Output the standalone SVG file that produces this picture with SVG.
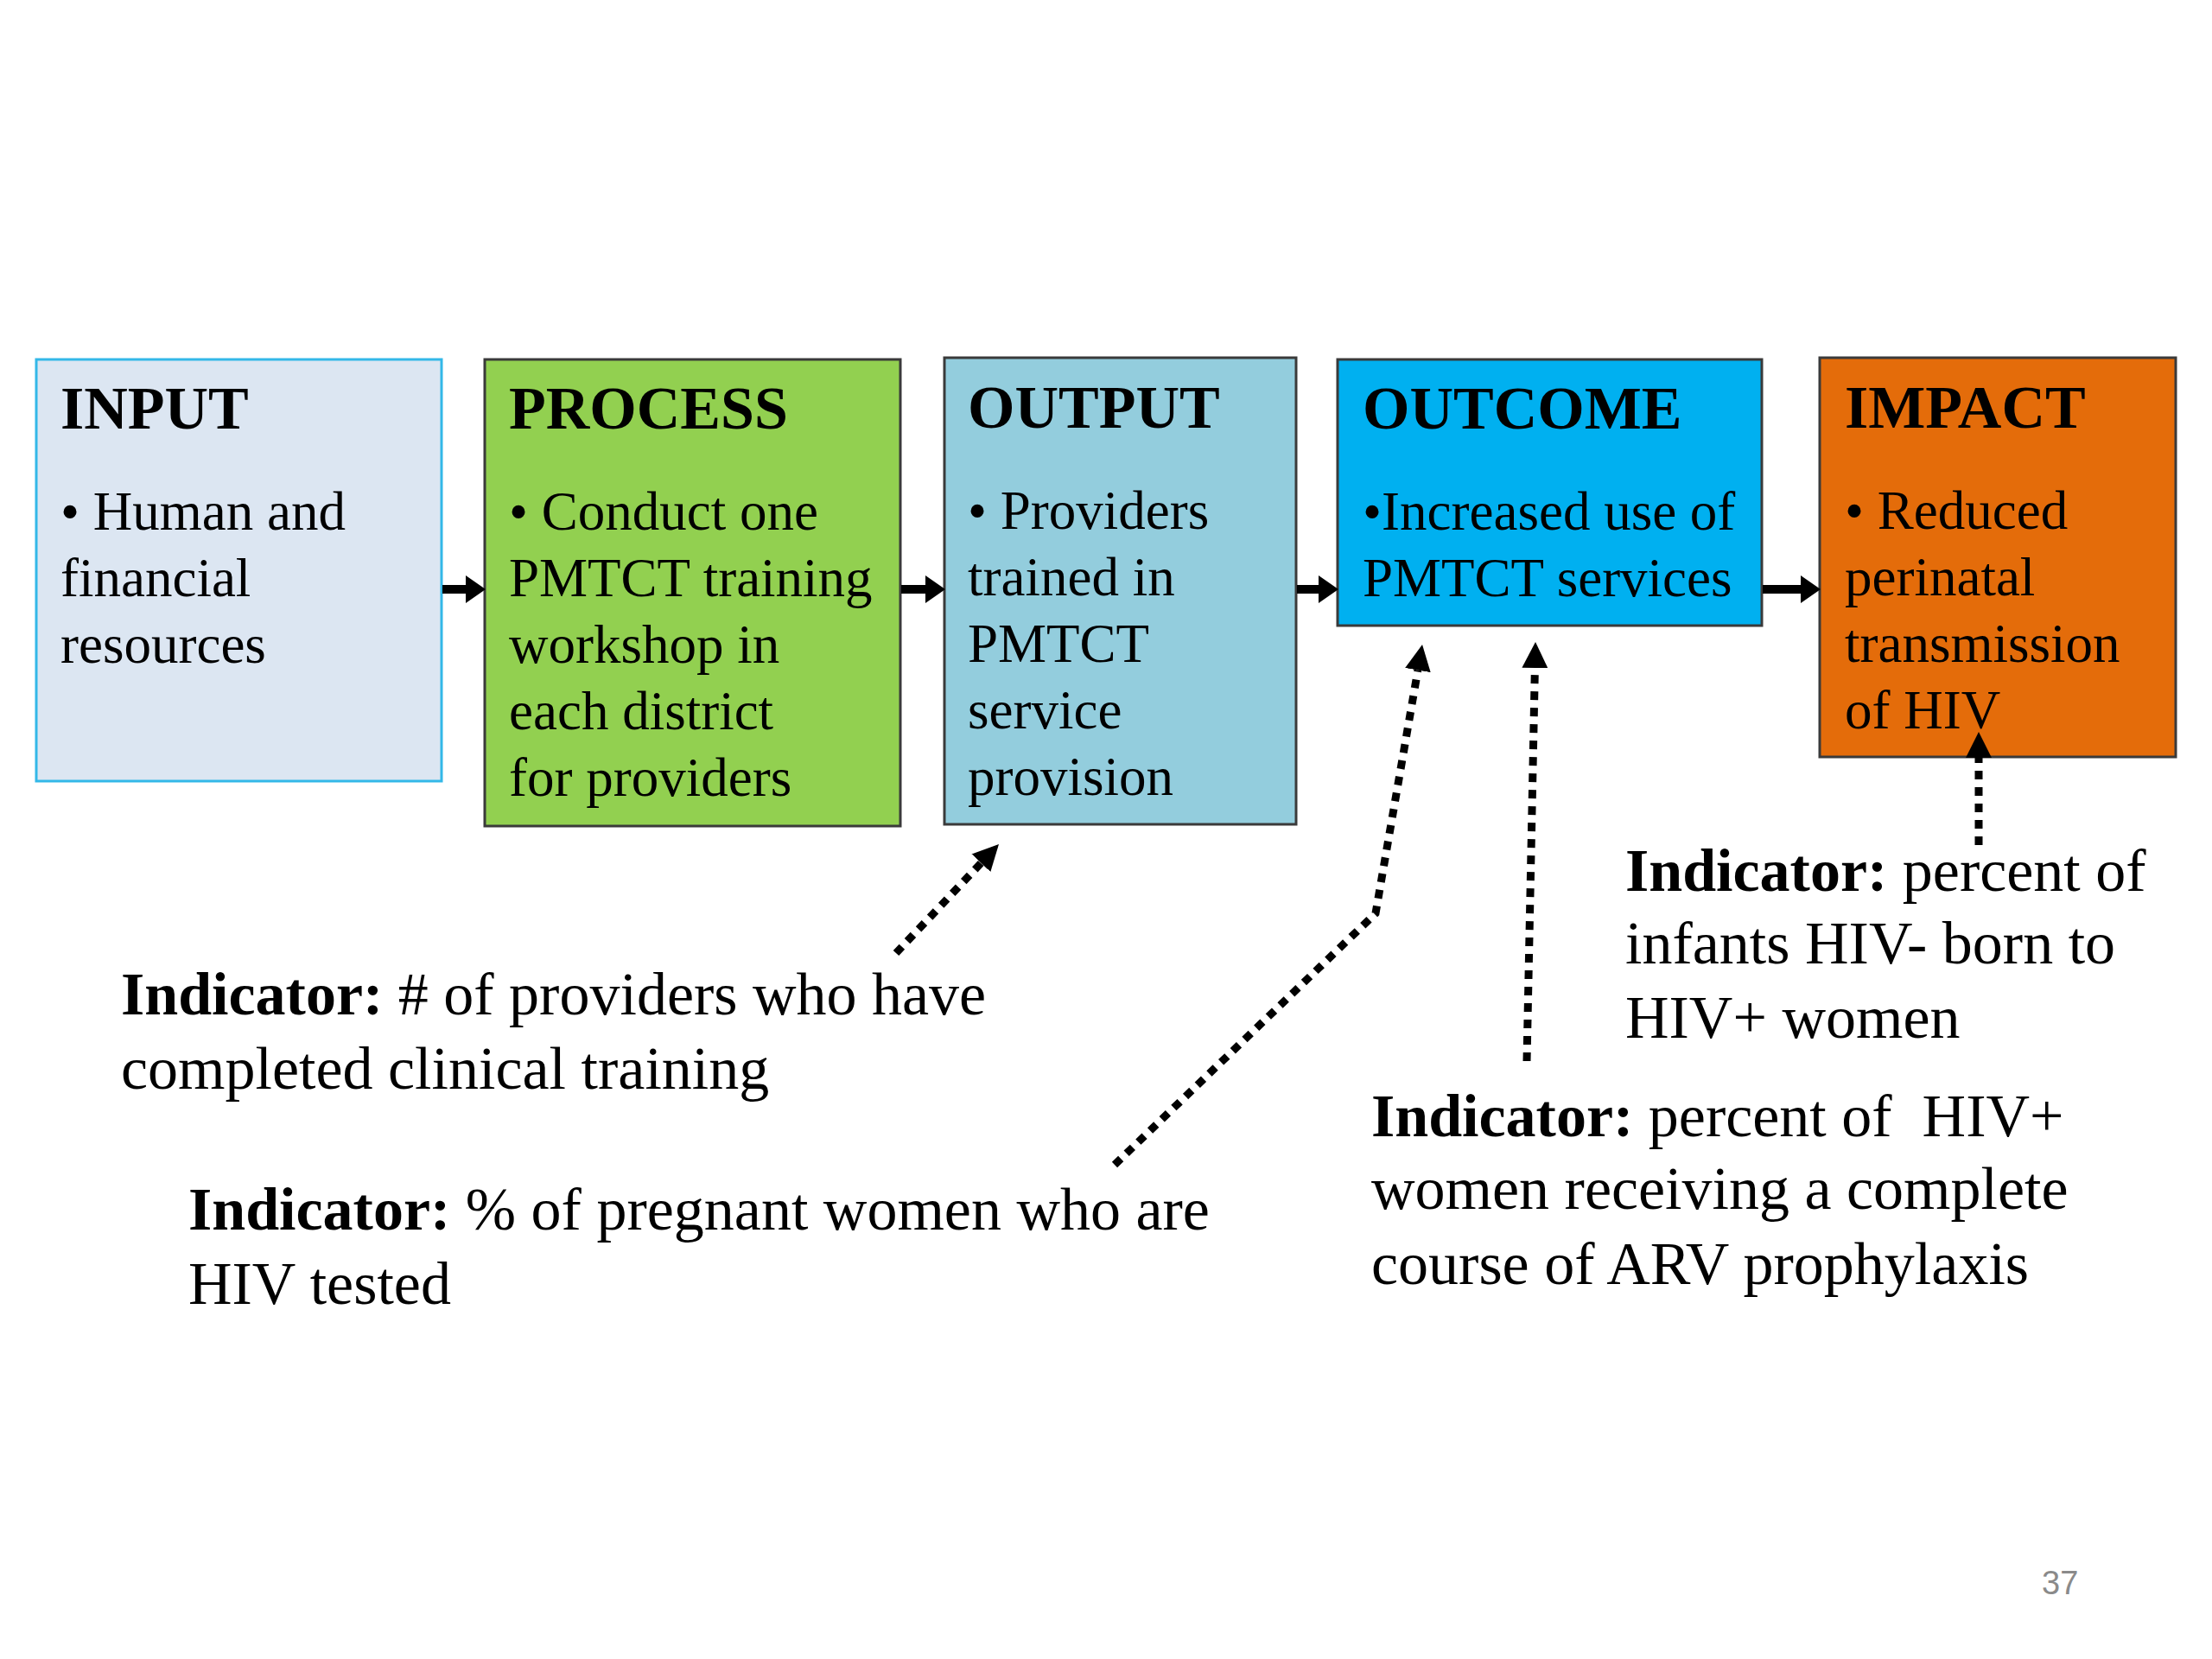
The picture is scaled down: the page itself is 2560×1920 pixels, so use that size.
<svg xmlns="http://www.w3.org/2000/svg" width="2560" height="1920" viewBox="0 0 2560 1920">
<style>
  .title { font-family: "Liberation Serif", "Times New Roman", serif; font-weight: bold; font-size: 70px; fill: #000; }
  .body { font-family: "Liberation Serif", "Times New Roman", serif; font-size: 63px; fill: #000; }
  .ind { font-family: "Liberation Serif", "Times New Roman", serif; font-size: 70px; fill: #000; }
  .ind .b { font-weight: bold; }
  .box { stroke: #3a3a3a; stroke-width: 3; }
  .solid { stroke: #000; stroke-width: 10; fill: none; marker-end: url(#solidHead); }
  .dotted { stroke: #000; stroke-width: 9; fill: none; stroke-dasharray: 10 9; marker-end: url(#dotHead); }
  .page { font-family: "Liberation Sans", Arial, sans-serif; font-size: 38px; fill: #8a8a8a; }
</style>
<defs>
  <marker id="solidHead" markerUnits="userSpaceOnUse" markerWidth="24" markerHeight="32" refX="0" refY="16" orient="auto" viewBox="0 0 24 32">
    <path d="M0,0 L23,16 L0,32 Z" fill="#000"/>
  </marker>
  <marker id="dotHead" markerUnits="userSpaceOnUse" markerWidth="31" markerHeight="30" refX="0" refY="15" orient="auto" viewBox="0 0 31 30">
    <path d="M0,0 L30,15 L0,30 Z" fill="#000"/>
  </marker>
</defs>
<rect x="0" y="0" width="2560" height="1920" fill="#fff"/>

<g id="input">
  <rect x="42" y="416" width="469" height="488" fill="#DCE6F2" stroke="#33B8E8" stroke-width="3"/>
  <text class="title" x="70" y="496">INPUT</text>
  <text class="body" x="70" y="613">• Human and</text>
  <text class="body" x="70" y="690">financial</text>
  <text class="body" x="70" y="767">resources</text>
</g>

<g id="process">
  <rect class="box" x="561" y="416" width="481" height="540" fill="#92D050"/>
  <text class="title" x="589" y="496">PROCESS</text>
  <text class="body" x="589" y="613">• Conduct one</text>
  <text class="body" x="589" y="690">PMTCT training</text>
  <text class="body" x="589" y="767">workshop in</text>
  <text class="body" x="589" y="844">each district</text>
  <text class="body" x="589" y="921">for providers</text>
</g>

<g id="output">
  <rect class="box" x="1093" y="414" width="407" height="540" fill="#93CDDD"/>
  <text class="title" x="1120" y="495">OUTPUT</text>
  <text class="body" x="1120" y="612">• Providers</text>
  <text class="body" x="1120" y="689">trained in</text>
  <text class="body" x="1120" y="766">PMTCT</text>
  <text class="body" x="1120" y="843">service</text>
  <text class="body" x="1120" y="920">provision</text>
</g>

<g id="outcome">
  <rect class="box" x="1548" y="416" width="491" height="308" fill="#00B0F0"/>
  <text class="title" x="1577" y="496">OUTCOME</text>
  <text class="body" x="1577" y="613">•Increased use of</text>
  <text class="body" x="1577" y="690">PMTCT services</text>
</g>

<g id="impact">
  <rect class="box" x="2106" y="414" width="412" height="462" fill="#E46C0A"/>
  <text class="title" x="2135" y="495">IMPACT</text>
  <text class="body" x="2135" y="612">• Reduced</text>
  <text class="body" x="2135" y="689">perinatal</text>
  <text class="body" x="2135" y="766">transmission</text>
  <text class="body" x="2135" y="843">of HIV</text>
</g>

<g id="indicator-output">
  <text class="ind" x="140" y="1174"><tspan class="b">Indicator:</tspan> # of providers who have</text>
  <text class="ind" x="140" y="1260">completed clinical training</text>
</g>

<g id="indicator-tested">
  <text class="ind" x="218" y="1423"><tspan class="b">Indicator:</tspan> % of pregnant women who are</text>
  <text class="ind" x="218" y="1509">HIV tested</text>
</g>

<g id="indicator-arv">
  <text class="ind" x="1587" y="1315"><tspan class="b">Indicator:</tspan> percent of &#160;HIV+</text>
  <text class="ind" x="1587" y="1399">women receiving a complete</text>
  <text class="ind" x="1587" y="1486">course of ARV prophylaxis</text>
</g>

<g id="indicator-impact">
  <text class="ind" x="1881" y="1031"><tspan class="b">Indicator:</tspan> percent of</text>
  <text class="ind" x="1881" y="1115">infants HIV- born to</text>
  <text class="ind" x="1881" y="1201">HIV+ women</text>
</g>

<g id="connectors">
  <line class="solid" x1="512" y1="682" x2="539" y2="682"/>
  <line class="solid" x1="1043" y1="682" x2="1071" y2="682"/>
  <line class="solid" x1="1501" y1="682" x2="1526" y2="682"/>
  <line class="solid" x1="2040" y1="682" x2="2084" y2="682"/>
  <line class="dotted" x1="1037" y1="1103" x2="1135.4" y2="998.8"/>
  <polyline class="dotted" points="1290,1348 1592,1057 1640.9,775.6"/>
  <line class="dotted" x1="1767" y1="1228" x2="1776.4" y2="773"/>
  <line class="dotted" x1="2290" y1="978" x2="2290" y2="877"/>
</g>

<text class="page" x="2363" y="1845">37</text>
</svg>
